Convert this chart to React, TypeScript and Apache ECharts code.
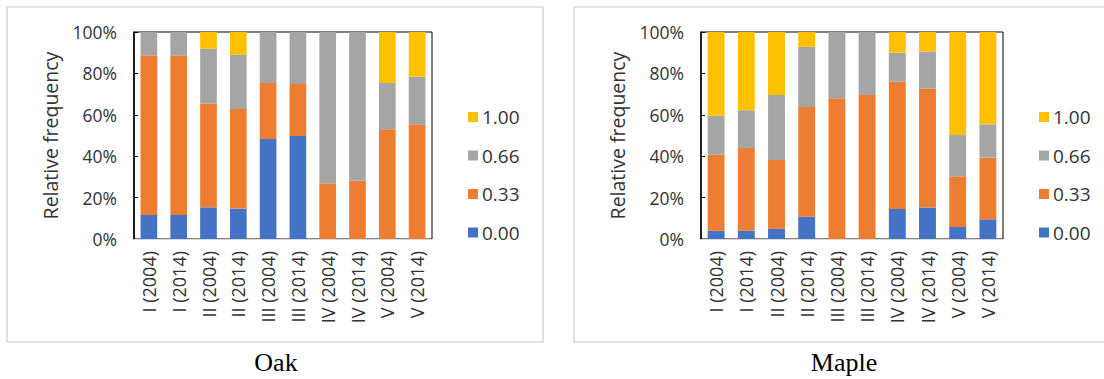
import React, { useEffect, useRef } from "react";
import * as echarts from "echarts";

const categories = [
  "I (2004)", "I (2014)", "II (2004)", "II (2014)", "III (2004)",
  "III (2014)", "IV (2004)", "IV (2014)", "V (2004)", "V (2014)",
];
const classNames = ["0.00", "0.33", "0.66", "1.00"];
const legendOrder = ["1.00", "0.66", "0.33", "0.00"];
const yTicks = [0, 20, 40, 60, 80, 100];

// Oak: relative frequency (%) per class
const oak000 = [11.6, 11.6, 15.3, 14.7, 48.3, 49.8, 0, 0, 0, 0];
const oak033 = [77.0, 77.0, 50.2, 48.1, 27.1, 25.1, 26.7, 28.2, 53.0, 55.4];
const oak066 = [11.4, 11.4, 26.4, 26.2, 24.6, 25.1, 73.3, 71.8, 22.4, 23.0];
const oak100 = [0, 0, 8.1, 11.0, 0, 0, 0, 0, 24.6, 21.6];

// Maple: relative frequency (%) per class
const maple000 = [4.0, 4.0, 5.0, 10.8, 0, 0, 14.5, 15.2, 5.8, 9.5];
const maple033 = [36.7, 40.0, 33.2, 53.0, 68.0, 69.6, 61.5, 57.5, 24.5, 29.8];
const maple066 = [18.9, 18.2, 31.4, 29.0, 32.0, 30.4, 14.0, 17.8, 19.9, 16.1];
const maple100 = [40.4, 37.8, 30.4, 7.2, 0, 0, 10.0, 9.5, 49.8, 44.6];

const colors = ["#4472C4", "#ED7D31", "#A5A5A5", "#FFC000"];
const SANS = "'Open Sans', 'Noto Sans', sans-serif";
const SERIF = "'Liberation Serif', 'DejaVu Serif', serif";
const TEXT = "#333333";

function makeSeries(idx: number, data: number[][]) {
  return data.map((d, i) => ({
    name: classNames[i],
    type: "bar",
    stack: "s" + idx,
    xAxisIndex: idx,
    yAxisIndex: idx,
    barWidth: "56%",
    itemStyle: { color: colors[i] },
    data: d,
  }));
}

function xAxis(idx: number) {
  return {
    type: "category",
    gridIndex: idx,
    data: categories,
    axisLine: { lineStyle: { color: "#d9d9d9", width: 1 } },
    axisTick: { show: false },
    axisLabel: {
      rotate: 90,
      margin: 12,
      fontSize: 18,
      color: TEXT,
      fontFamily: SANS,
      interval: 0,
    },
    z: 10,
  };
}

function yAxis(idx: number) {
  return {
    type: "value",
    gridIndex: idx,
    min: yTicks[0],
    max: yTicks[yTicks.length - 1],
    interval: 20,
    name: "Relative frequency",
    nameLocation: "middle",
    nameGap: 74,
    nameTextStyle: { fontSize: 19.5, color: TEXT, fontFamily: SANS },
    axisLine: { show: true, lineStyle: { color: "#000", width: 1.5 } },
    axisTick: { show: true, inside: true, length: 4, lineStyle: { color: "#000" } },
    splitLine: { show: false },
    axisLabel: {
      formatter: "{value}%",
      fontSize: 17.5,
      margin: 17,
      color: TEXT,
      fontFamily: SANS,
    },
  };
}

function legend(left: number) {
  return {
    orient: "vertical",
    left,
    top: 106,
    padding: 0,
    data: legendOrder,
    itemWidth: 10,
    itemHeight: 10,
    itemGap: 16.5,
    icon: "rect",
    textStyle: { fontSize: 19, color: TEXT, fontFamily: SANS, lineHeight: 22, padding: [0, 0, 0, -1] },
    selectedMode: false,
  };
}

export default function App() {
  const ref = useRef<HTMLDivElement>(null);
  useEffect(() => {
    const chart = echarts.init(ref.current!, null, { renderer: "svg" });
    chart.setOption({
      animation: false,
      backgroundColor: "#fff",
      grid: [
        { left: 134, top: 32, width: 298, height: 207, show: true, borderColor: "#000", borderWidth: 1 },
        { left: 701, top: 32, width: 302, height: 207, show: true, borderColor: "#000", borderWidth: 1 },
      ],
      xAxis: [xAxis(0), xAxis(1)],
      yAxis: [yAxis(0), yAxis(1)],
      legend: [legend(468), legend(1039)],
      series: [
        ...makeSeries(0, [oak000, oak033, oak066, oak100]),
        ...makeSeries(1, [maple000, maple033, maple066, maple100]),
      ],
      graphic: [
        { type: "rect", shape: { x: 7, y: 7, width: 536, height: 335 }, style: { fill: "none", stroke: "#d9d9d9", lineWidth: 1.5 }, z: -1 },
        { type: "rect", shape: { x: 574, y: 7, width: 540, height: 335 }, style: { fill: "none", stroke: "#d9d9d9", lineWidth: 1.5 }, z: -1 },
        { type: "text", x: 276, y: 362, style: { text: "Oak", font: "26px " + SERIF, fill: "#000", textAlign: "center", textVerticalAlign: "middle" } },
        { type: "text", x: 844, y: 362, style: { text: "Maple", font: "26px " + SERIF, fill: "#000", textAlign: "center", textVerticalAlign: "middle" } },
      ],
    });
    return () => chart.dispose();
  }, []);
  return (
    <div
      ref={ref}
      style={{ position: "absolute", left: 0, top: 0, width: 1104, height: 379 }}
    />
  );
}
